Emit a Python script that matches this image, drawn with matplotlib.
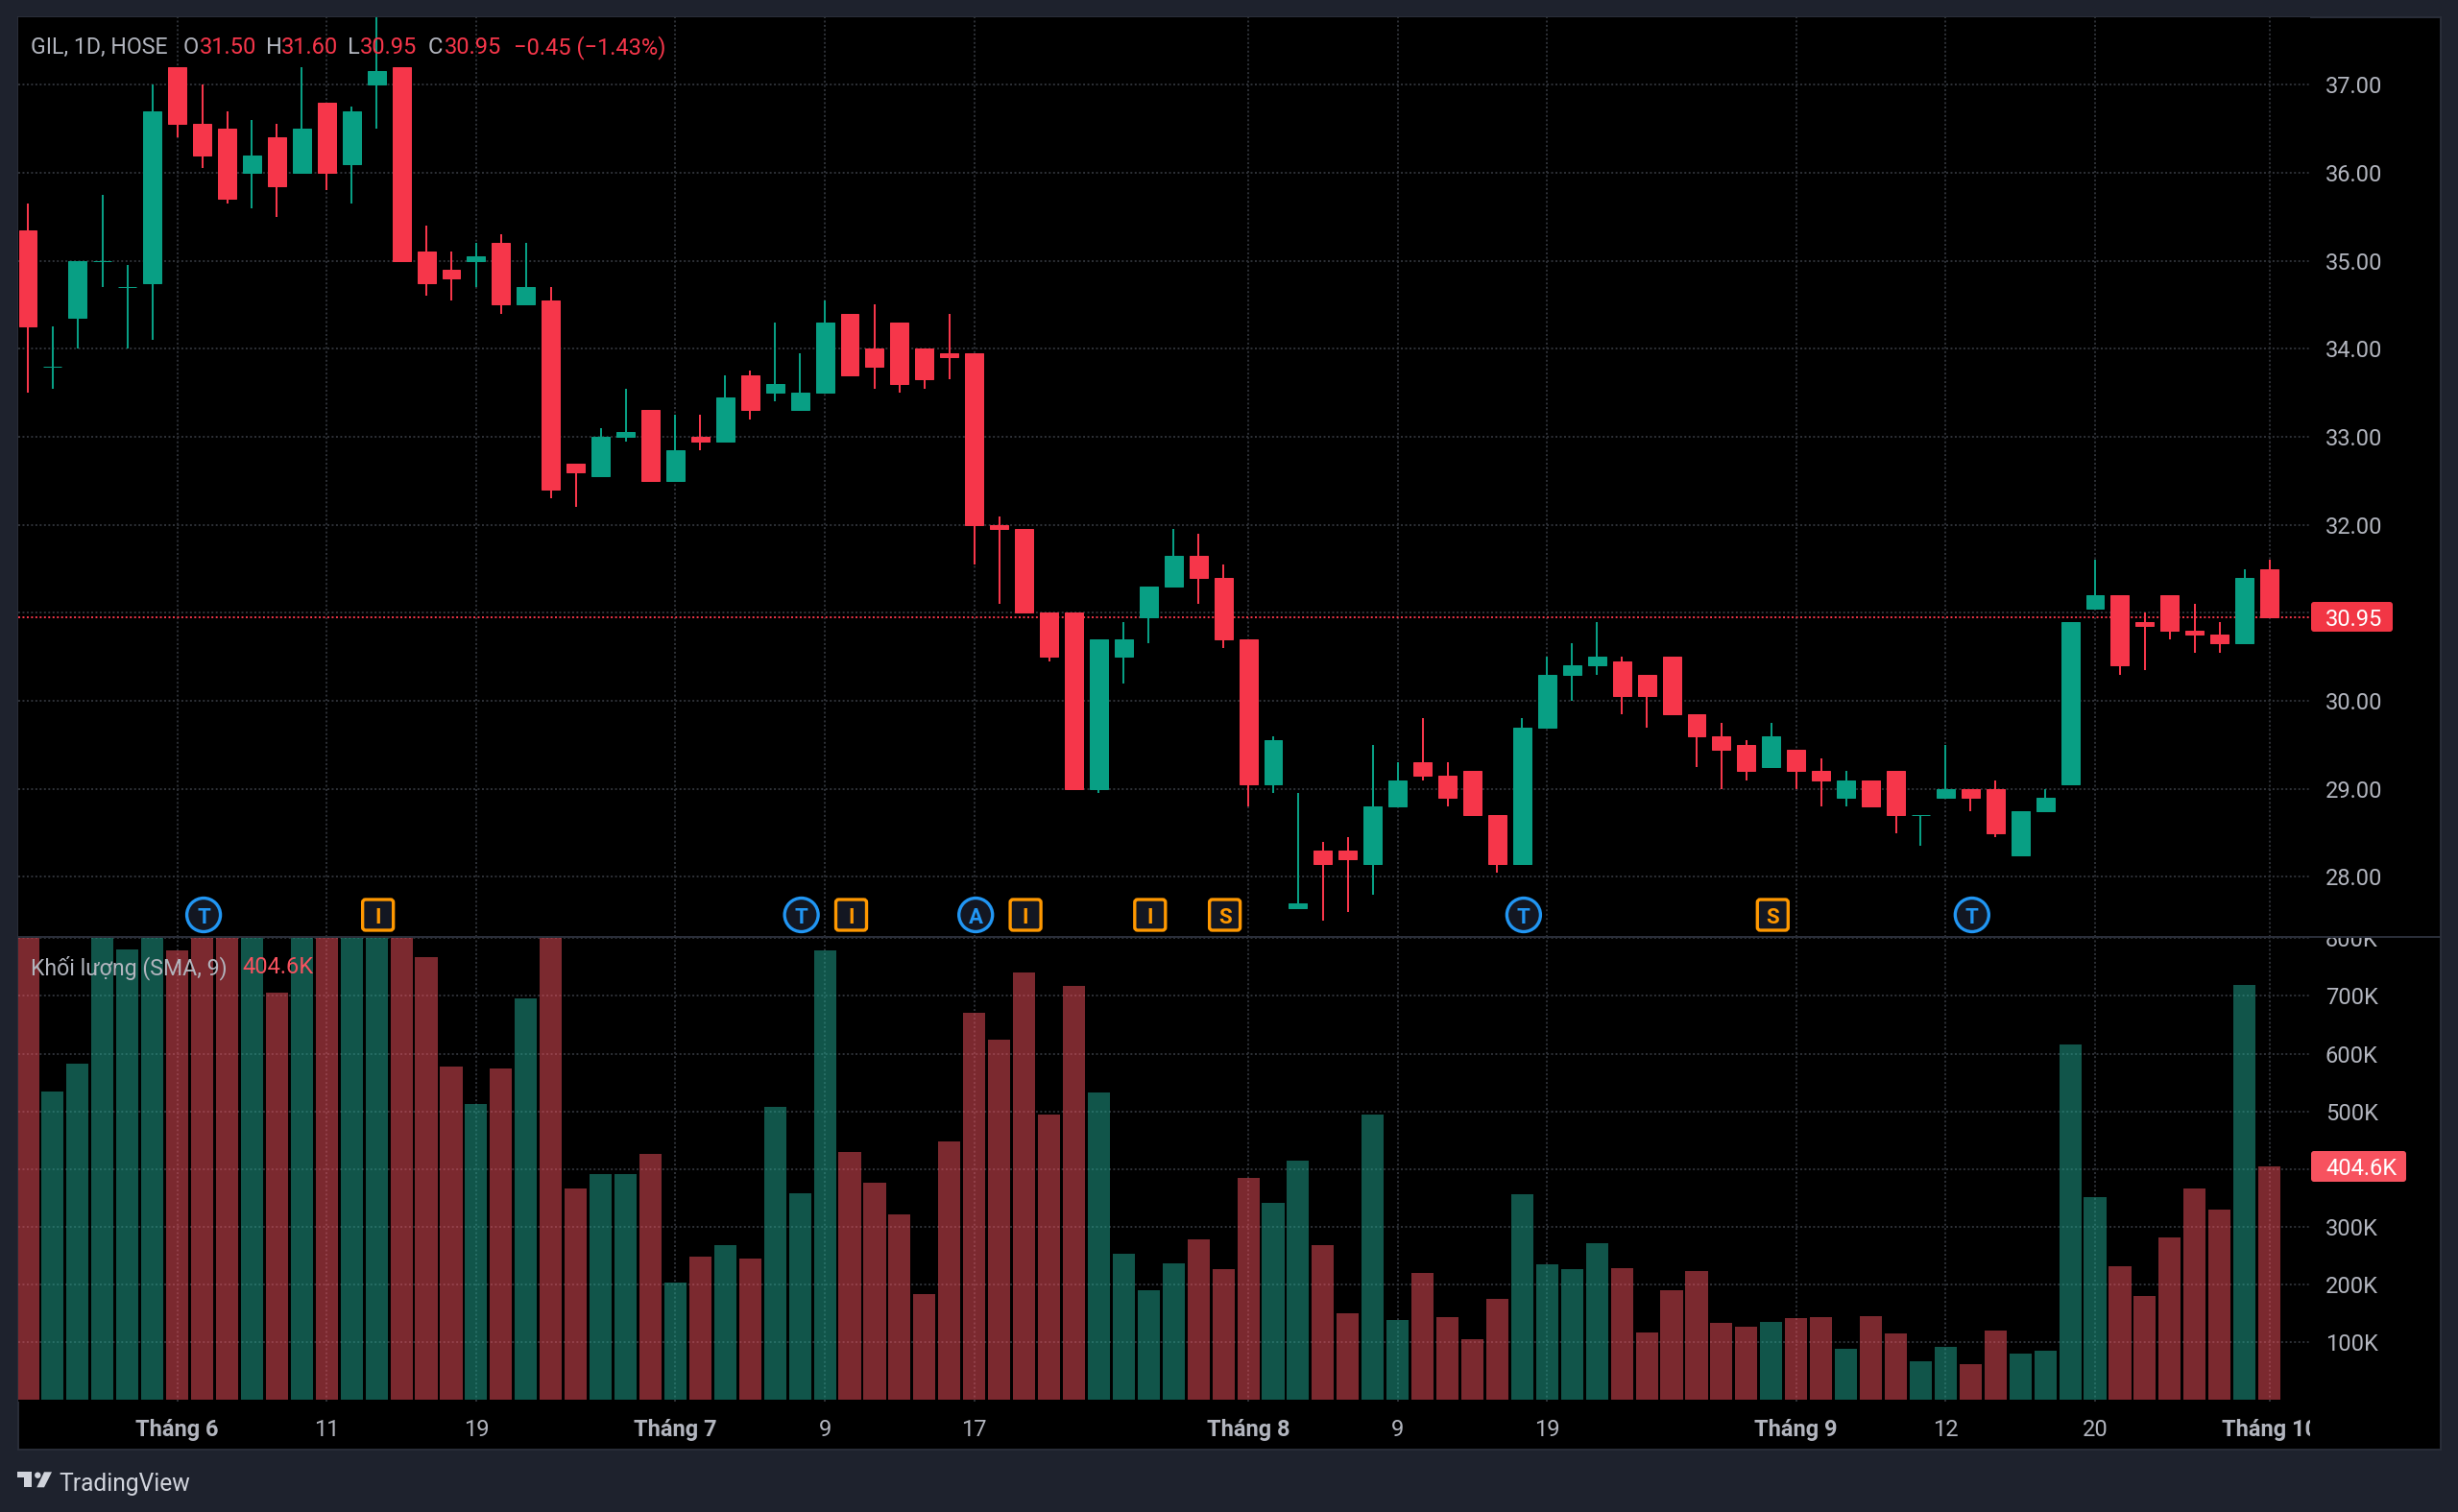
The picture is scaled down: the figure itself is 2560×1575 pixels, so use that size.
"""
plot.py

GIL daily candlesticks with a volume pane, dark chart style.
"""

import numpy as np
import matplotlib
matplotlib.use("Agg")
import matplotlib.pyplot as plt
from matplotlib.patches import Circle, FancyBboxPatch, Polygon, Rectangle
from matplotlib.transforms import Bbox

plt.rcParams["font.family"] = ["Roboto", "DejaVu Sans"]

# ---------------------------------------------------------------------------
# Data
# ---------------------------------------------------------------------------

opens = [35.35, 33.8, 34.35, 35.0, 34.7, 34.75, 37.2, 36.55, 36.5, 36.0,
         36.4, 36.0, 36.8, 36.1, 37.0, 37.2, 35.1, 34.9, 35.0, 35.2,
         34.5, 34.55, 32.7, 32.55, 33.0, 33.3, 32.5, 33.0, 32.95, 33.7,
         33.5, 33.3, 33.5, 34.4, 34.0, 34.3, 34.0, 33.95, 33.95, 32.0,
         31.95, 31.0, 31.0, 29.0, 30.5, 30.95, 31.3, 31.65, 31.4, 30.7,
         29.05, 27.65, 28.3, 28.3, 28.15, 28.8, 29.3, 29.15, 29.2, 28.7,
         28.15, 29.7, 30.3, 30.4, 30.45, 30.3, 30.5, 29.85, 29.6, 29.5,
         29.25, 29.45, 29.2, 28.9, 29.1, 29.2, 28.7, 28.9, 29.0, 29.0,
         28.25, 28.75, 29.05, 31.05, 31.2, 30.9, 31.2, 30.8, 30.75, 30.65,
         31.5]
highs = [35.65, 34.25, 35.0, 35.75, 34.95, 37.0, 37.2, 37.0, 36.7, 36.6,
         36.55, 37.2, 36.8, 36.75, 37.8, 37.2, 35.4, 35.1, 35.2, 35.3,
         35.2, 34.7, 32.7, 33.1, 33.55, 33.3, 33.25, 33.25, 33.7, 33.75,
         34.3, 33.95, 34.55, 34.4, 34.5, 34.3, 34.0, 34.4, 33.95, 32.1,
         31.95, 31.0, 31.0, 30.7, 30.9, 31.3, 31.95, 31.9, 31.55, 30.7,
         29.6, 28.95, 28.4, 28.45, 29.5, 29.3, 29.8, 29.3, 29.2, 28.7,
         29.8, 30.5, 30.65, 30.9, 30.5, 30.3, 30.5, 29.85, 29.75, 29.55,
         29.75, 29.45, 29.35, 29.2, 29.1, 29.2, 28.7, 29.5, 29.0, 29.1,
         28.75, 29.0, 30.9, 31.6, 31.2, 31.0, 31.2, 31.1, 30.9, 31.5,
         31.6]
lows = [33.5, 33.55, 34.0, 34.7, 34.0, 34.1, 36.4, 36.05, 35.65, 35.6,
        35.5, 36.0, 35.8, 35.65, 36.5, 35.0, 34.6, 34.55, 34.7, 34.4,
        34.5, 32.3, 32.2, 32.55, 32.95, 32.5, 32.5, 32.85, 32.95, 33.2,
        33.4, 33.3, 33.5, 33.7, 33.55, 33.5, 33.55, 33.65, 31.55, 31.1,
        31.0, 30.45, 29.0, 28.95, 30.2, 30.65, 31.3, 31.1, 30.6, 28.8,
        28.95, 27.65, 27.5, 27.6, 27.8, 28.8, 29.1, 28.8, 28.7, 28.05,
        28.15, 29.7, 30.0, 30.3, 29.85, 29.7, 29.85, 29.25, 29.0, 29.1,
        29.25, 29.0, 28.8, 28.8, 28.8, 28.5, 28.35, 28.9, 28.75, 28.45,
        28.25, 28.75, 29.05, 31.05, 30.3, 30.35, 30.7, 30.55, 30.55, 30.65,
        30.95]
closes = [34.25, 33.8, 35.0, 35.0, 34.7, 36.7, 36.55, 36.2, 35.7, 36.2,
          35.85, 36.5, 36.0, 36.7, 37.15, 35.0, 34.75, 34.8, 35.05, 34.5,
          34.7, 32.4, 32.6, 33.0, 33.05, 32.5, 32.85, 32.95, 33.45, 33.3,
          33.6, 33.5, 34.3, 33.7, 33.8, 33.6, 33.65, 33.9, 32.0, 31.95,
          31.0, 30.5, 29.0, 30.7, 30.7, 31.3, 31.65, 31.4, 30.7, 29.05,
          29.55, 27.7, 28.15, 28.2, 28.8, 29.1, 29.15, 28.9, 28.7, 28.15,
          29.7, 30.3, 30.4, 30.5, 30.05, 30.05, 29.85, 29.6, 29.45, 29.2,
          29.6, 29.2, 29.1, 29.1, 28.8, 28.7, 28.7, 29.0, 28.9, 28.5,
          28.75, 28.9, 30.9, 31.2, 30.4, 30.85, 30.8, 30.75, 30.65, 31.4,
          30.95]
volumes = [820, 535, 583, 830, 780, 830, 779, 850, 850, 840,
           706, 900, 880, 850, 850, 900, 767, 577, 512, 575,
           695, 1000, 367, 392, 391, 427, 204, 248, 269, 245,
           507, 359, 779, 430, 376, 321, 183, 448, 670, 624,
           740, 494, 717, 532, 253, 190, 237, 279, 227, 384,
           341, 414, 269, 150, 495, 139, 220, 144, 106, 176,
           357, 236, 227, 271, 228, 117, 190, 224, 134, 127,
           136, 142, 143, 89, 145, 115, 68, 93, 63, 121,
           80, 86, 616, 351, 232, 181, 281, 366, 330, 719,
           404.6]

time_ticks = [6, 12, 18, 26, 32, 38, 49, 55, 61, 71, 77, 83, 90]
time_labels = ["Tháng 6", "11", "19", "Tháng 7", "9", "17", "Tháng 8",
               "9", "19", "Tháng 9", "12", "20", "Tháng 10"]
price_ticks = [28, 29, 30, 31, 32, 33, 34, 35, 36, 37]
price_labels = ["28.00", "29.00", "30.00", "", "32.00", "33.00", "34.00",
                "35.00", "36.00", "37.00"]
vol_ticks = [100, 200, 300, 400, 500, 600, 700, 800]
vol_labels = ["100K", "200K", "300K", "", "500K", "600K", "700K", "800K"]

event_bars = [7, 14, 31, 33, 38, 40, 45, 48, 60, 70, 78]
event_letters = ["T", "I", "T", "I", "A", "I", "I", "S", "T", "S", "T"]

# ---------------------------------------------------------------------------
# Config (layout in reference pixels)
# ---------------------------------------------------------------------------

W, H = 2560, 1575
LEFT, RIGHT, PANEL_R = 19, 2406, 2542
TOP, SPLIT, VOL_BOTTOM, PANEL_B = 18, 976, 1460, 1510
STEP = 25.94
X0 = 29

BG = "#1e222d"
GRID = "#2f3238"
TEXT = "#b2b5be"
UP = "#089f84"
DOWN = "#f6364a"
VOL_UP = "#22ab94"
VOL_DOWN = "#f7525f"
FS = 17


def px_axes(fig, x0, y0, x1, y1, **kw):
    return fig.add_axes([x0 / W, 1 - y1 / H, (x1 - x0) / W, (y1 - y0) / H], **kw)


def px_box(x0, y0, x1, y1):
    return Bbox([[x0, H - y1], [x1, H - y0]])


def style_pane(ax):
    ax.set_facecolor("black")
    for s in ax.spines.values():
        s.set_visible(False)
    ax.set_xlim((LEFT - X0) / STEP, (RIGHT - X0) / STEP)
    ax.set_xticks(time_ticks)
    ax.yaxis.tick_right()
    ax.tick_params(length=0, labelsize=FS, labelcolor=TEXT)
    ax.tick_params(axis="y", pad=11.5)
    ax.grid(True, color=GRID, lw=1.4, ls=(0, (1, 1.3)))
    ax.set_axisbelow(True)


def draw_label(ax_px, x0, y0, x1, y1, color, label):
    ax_px.add_patch(FancyBboxPatch((x0, y0), x1 - x0, y1 - y0, fc=color, ec=color,
                                   lw=0, boxstyle="round,pad=0,rounding_size=3"))
    ax_px.text(2422, (y0 + y1) / 2, label, color="white", fontsize=FS,
               ha="left", va="center_baseline")


def draw_events(ax_px):
    for i, letter in zip(event_bars, event_letters):
        x = X0 + STEP * i + 1.5
        y = 953
        if letter in ("T", "A"):
            color = "#2196f3"
            ax_px.add_patch(Circle((x, y), 17.5, fc="#131722", ec=color, lw=2.4))
        else:
            color = "#ff9800"
            ax_px.add_patch(FancyBboxPatch((x - 16, y - 16), 32, 32, fc="#131722",
                                           ec=color, lw=2.4,
                                           boxstyle="round,pad=0,rounding_size=3"))
        ax_px.text(x, y, letter, color=color, fontsize=16, fontweight="bold",
                   ha="center", va="center_baseline")


def draw_legends(ax_px):
    y = 46.5
    parts = [(32.5, "GIL, 1D, HOSE", TEXT), (191, "O", TEXT), (208, "31.50", DOWN),
             (277, "H", TEXT), (293, "31.60", DOWN), (362, "L", TEXT),
             (375, "30.95", DOWN), (446, "C", TEXT), (462.5, "30.95", DOWN),
             (535, "−0.45 (−1.43%)", DOWN)]
    for x, s, c in parts:
        size = 16.7 if s.startswith("GIL") else FS
        ax_px.text(x, y, s, color=c, fontsize=size, ha="left", va="center_baseline")
    ax_px.text(32.5, 1005, "Khối lượng (SMA, 9)", color=TEXT, fontsize=16.7,
               ha="left", va="center_baseline")
    ax_px.text(252, 1005, "404.6K", color=VOL_DOWN, fontsize=FS,
               ha="left", va="center_baseline")


def draw_logo(ax_px):
    c = "#d1d4dc"
    ax_px.add_patch(Polygon([(18, 1533.3), (32.7, 1533.3), (32.7, 1549.3), (25, 1549.3),
                             (25, 1539), (18, 1539)], fc=c, ec="none"))
    ax_px.add_patch(Circle((39.3, 1536.7), 3.2, fc=c, ec="none"))
    ax_px.add_patch(Polygon([(46, 1533.3), (54, 1533.3), (46, 1549.3), (38.3, 1549.3)],
                            fc=c, ec="none"))
    ax_px.text(61, 1544, "TradingView", color=c, fontsize=17.7, ha="left",
               va="center_baseline")


# ---------------------------------------------------------------------------
# Main
# ---------------------------------------------------------------------------

def main():
    o, h, l, c = map(np.array, (opens, highs, lows, closes))
    v = np.array(volumes)
    x = np.arange(len(o))
    up = c >= o
    cols = np.where(up, UP, DOWN)
    vcols = np.where(up, VOL_UP, VOL_DOWN)

    fig = plt.figure(figsize=(W / 100, H / 100), dpi=100, facecolor=BG)

    back = px_axes(fig, LEFT, TOP, PANEL_R, PANEL_B)
    back.set_facecolor("black")
    back.set_xticks([])
    back.set_yticks([])
    for s in back.spines.values():
        s.set_color("#2a2e39")
        s.set_linewidth(1.4)

    ax = px_axes(fig, LEFT, TOP, RIGHT, SPLIT)
    style_pane(ax)
    ax.set_ylim(27.318, 37.766)
    ax.set_yticks(price_ticks)
    ax.set_yticklabels(price_labels)
    ax.tick_params(axis="x", labelbottom=False)
    ax.axhline(c[-1], color=DOWN, lw=1.4, ls=(0, (1, 1.3)), zorder=1.5)
    ax.vlines(x, l, h, color=cols, lw=1.45, zorder=2)
    ax.bar(x, np.abs(c - o), bottom=np.minimum(o, c), width=0.73, color=cols,
           edgecolor=cols, lw=0.72, zorder=3)

    ax_v = px_axes(fig, LEFT, SPLIT, RIGHT, VOL_BOTTOM)
    style_pane(ax_v)
    ax_v.set_ylim(-2.5, 802)
    ax_v.set_yticks(vol_ticks)
    ax_v.set_yticklabels(vol_labels)
    ax_v.set_xticklabels(time_labels)
    ax_v.tick_params(axis="x", pad=12.7)
    ax_v.bar(x, v, width=0.89, color=vcols, alpha=0.5, lw=0, zorder=2)

    # labels get cut by the pane edges
    for t in ax_v.get_yticklabels():
        t.set_clip_box(px_box(RIGHT, SPLIT, PANEL_R, VOL_BOTTOM))
        t.set_clip_on(True)
    for t in ax_v.get_xticklabels():
        t.set_clip_box(px_box(LEFT, VOL_BOTTOM, RIGHT, PANEL_B))
        t.set_clip_on(True)
        if t.get_text().startswith("Tháng"):
            t.set_fontweight("bold")

    # overlay in pixel coordinates for labels, event badges, logo
    ax_px = fig.add_axes([0, 0, 1, 1], zorder=10)
    ax_px.set_xlim(0, W)
    ax_px.set_ylim(H, 0)
    ax_px.axis("off")
    ax_px.add_patch(Rectangle((LEFT, SPLIT - 1), PANEL_R - LEFT, 2, fc="#2a2e39", ec="none"))
    draw_label(ax_px, 2407, 627, 2492, 658, "#f23645", "30.95")
    draw_label(ax_px, 2407, 1199, 2506, 1231, VOL_DOWN, "404.6K")
    draw_events(ax_px)
    draw_legends(ax_px)
    draw_logo(ax_px)

    fig.savefig("out.png", dpi=100, facecolor=BG)
    plt.close(fig)


if __name__ == "__main__":
    main()
